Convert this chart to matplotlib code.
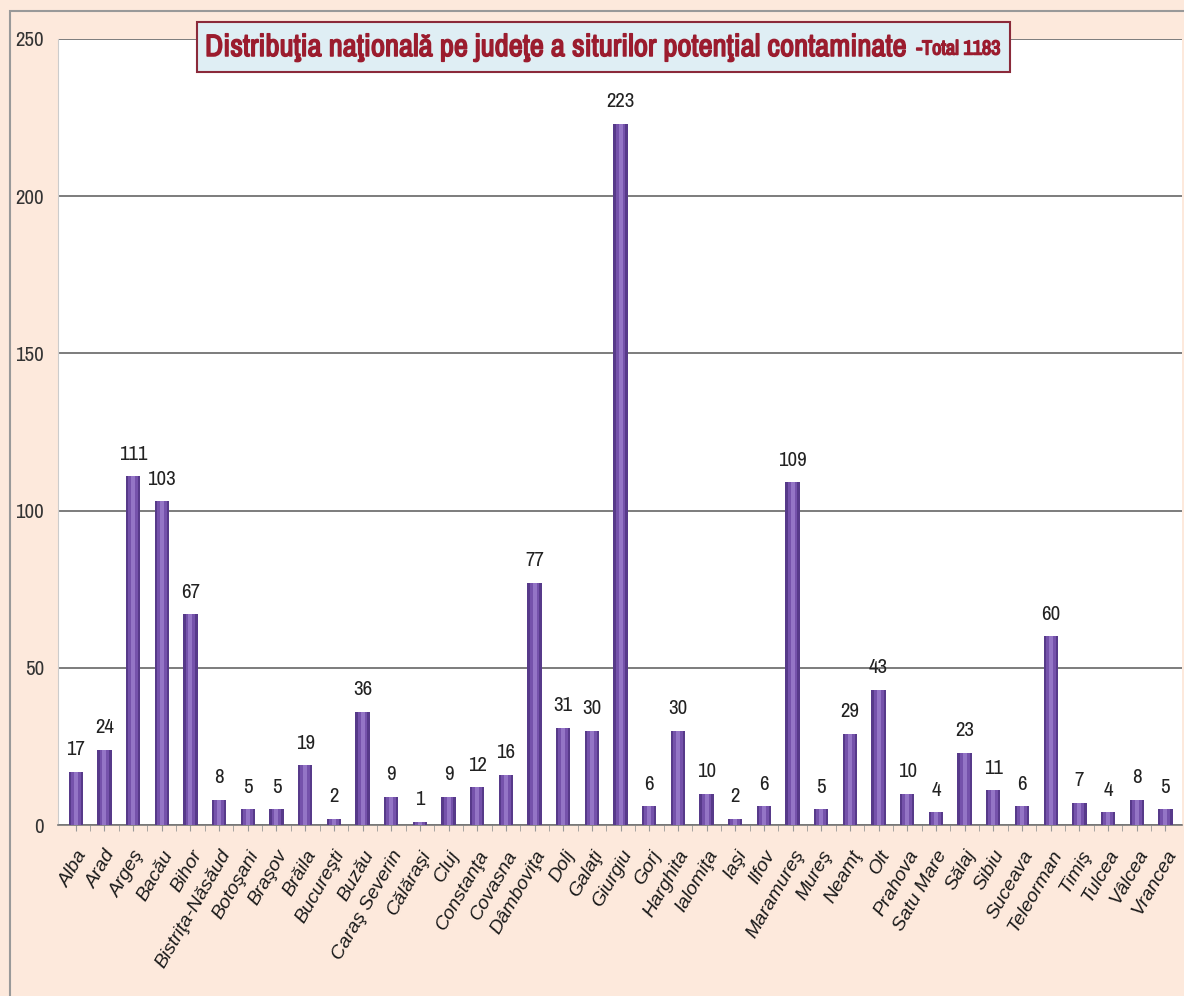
import matplotlib.pyplot as plt
import matplotlib.patheffects as pe
from matplotlib import font_manager
from matplotlib.patches import Rectangle

judete = ["Alba", "Arad", "Argeş", "Bacău", "Bihor", "Bistriţa-Năsăud", "Botoşani",
          "Braşov", "Brăila", "Bucureşti", "Buzău", "Caraş Severin", "Călăraşi", "Cluj",
          "Constanţa", "Covasna", "Dâmboviţa", "Dolj", "Galaţi", "Giurgiu", "Gorj",
          "Harghita", "Ialomiţa", "Iaşi", "Ilfov", "Maramureş", "Mureş", "Neamţ", "Olt",
          "Prahova", "Satu Mare", "Sălaj", "Sibiu", "Suceava", "Teleorman", "Timiş",
          "Tulcea", "Vâlcea", "Vrancea"]
situri = [17, 24, 111, 103, 67, 8, 5, 5, 19, 2, 36, 9, 1, 9, 12, 16, 77, 31, 30, 223,
          6, 30, 10, 2, 6, 109, 5, 29, 43, 10, 4, 23, 11, 6, 60, 7, 4, 8, 5]
y_ticks = [0, 50, 100, 150, 200, 250]

titlu = "Distribuţia naţională pe judeţe a siturilor potenţial contaminate"
total = "-Total 1183"

# pick a narrow face if one is around, otherwise Liberation Sans
installed = {f.name for f in font_manager.fontManager.ttflist}
narrow_names = sorted(n for n in installed
                      if "narrow" in n.lower() or "condensed" in n.lower())
narrow = narrow_names[:1] + ["Liberation Sans", "DejaVu Sans"]
plain = ["Liberation Sans", "DejaVu Sans"]

peach = "#fde9dc"
W, H = 1184, 996

fig = plt.figure(figsize=(W / 100, H / 100), dpi=100, facecolor=peach)
ax = fig.add_axes([58 / W, 171 / H, 1124 / W, 786 / H])
ax.set_facecolor("white")

x = list(range(len(judete)))
# cylinder-ish look: dark body, lighter core
ax.bar(x, situri, width=0.5, color="#573a8a", zorder=3)
ax.bar(x, situri, width=0.34, color="#7552ab", zorder=4)
ax.bar(x, situri, width=0.14, color="#9475c6", zorder=5)

for xi, v in zip(x, situri):
    ax.annotate(str(v), (xi, v), xytext=(0, 9), textcoords="offset points",
                ha="center", va="bottom", fontsize=15, color="#222222",
                family=narrow)

ax.set_xlim(-0.62, len(judete) - 0.42)
ax.set_ylim(0, 250)
ax.set_yticks(y_ticks)
ax.set_yticklabels([str(t) for t in y_ticks], family=narrow, fontsize=15,
                   color="#333333")
ax.yaxis.grid(True, color="#666666", linewidth=1.2, zorder=0)
ax.tick_params(axis="y", length=0, pad=10)

ax.set_xticks(x)
ax.set_xticklabels(judete, rotation=60, ha="right", rotation_mode="anchor",
                   family=plain, style="italic", fontsize=14, color="#1a1a1a")
ax.set_xticks([i + 0.5 for i in x[:-1]], minor=True)
ax.tick_params(axis="x", which="both", length=4, color="#999999", pad=12)

for side in ["top", "right"]:
    ax.spines[side].set_visible(False)
ax.spines["left"].set_color("#cccccc")
ax.spines["bottom"].set_color("#777777")
ax.spines["bottom"].set_linewidth(1.2)

# outer border of the chart
fig.add_artist(Rectangle((10 / W, -0.01), 1.2, 1 - 11 / H + 0.01,
                         transform=fig.transFigure, fill=False,
                         edgecolor="#999999", linewidth=1.5))

# title: big part then smaller "-Total", sized to fit the reference box
bold = [pe.withStroke(linewidth=1.1, foreground="#9b1c2e")]
r = fig.canvas.get_renderer()
t1 = fig.text(205 / W, 1 - 47 / H, titlu, ha="left", va="center", fontsize=20,
              fontweight="bold", color="#9b1c2e", family=narrow, zorder=5,
              path_effects=bold)
w1 = t1.get_window_extent(r).width
t1.set_fontsize(20 * 702 / w1)
w1 = t1.get_window_extent(r).width
t2 = fig.text((205 + w1 + 10) / W, 1 - 49 / H, total, ha="left", va="center",
              fontsize=14, fontweight="bold", color="#9b1c2e", family=narrow,
              zorder=5, path_effects=bold)
w2 = t2.get_window_extent(r).width
t2.set_fontsize(14 * 84 / w2)
box = Rectangle((197 / W, (H - 72) / H), 813 / W, 50 / H,
                transform=fig.transFigure, facecolor="#dfeef4",
                edgecolor="#8b2a3a", linewidth=1.5, zorder=4)
fig.add_artist(box)

fig.savefig("out.png", dpi=100, facecolor=peach)
